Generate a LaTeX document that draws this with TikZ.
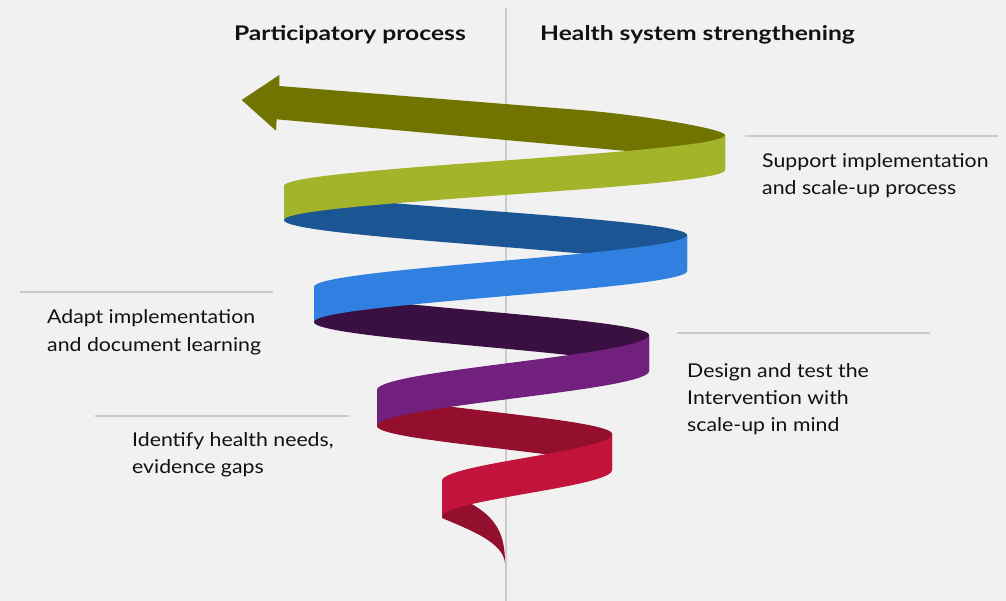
\documentclass[tikz,border=0pt]{standalone}
\usepackage{fontspec}
\setmainfont{Lato}
\newfontfamily\hdrfont[FakeStretch=1.22]{Lato}
\newfontfamily\lblfont[FakeStretch=1.12]{Lato}
\definecolor{bg}{HTML}{F1F1F1}
\definecolor{linegray}{HTML}{CBCBCB}
\definecolor{txt}{HTML}{111111}
\definecolor{crimson}{HTML}{C2133B}
\definecolor{darkred}{HTML}{930F2D}
\definecolor{purp}{HTML}{71217D}
\definecolor{darkpurp}{HTML}{3A1042}
\definecolor{brightblue}{HTML}{2F80E0}
\definecolor{darkblue}{HTML}{1C5594}
\definecolor{lime}{HTML}{A3B42A}
\definecolor{olive}{HTML}{717400}
% half-turn of the ribbon: colour, xA, topA, botA, xB, topB, botB
\newcommand{\ribbonpart}[7]{%
  \fill[#1] plot[domain=0:1,samples=90,variable=\s]
    ({(#2+#5)/2+(#2-#5)/2*cos(180*\s)},{#3+(#6-#3)*\s})
    -- plot[domain=1:0,samples=90,variable=\s]
    ({(#2+#5)/2+(#2-#5)/2*cos(180*\s)},{#4+(#7-#4)*\s}) -- cycle;}
\begin{document}
\begin{tikzpicture}[x=1pt,y=-1pt,
  hline/.style={draw=linegray,line width=1.2pt},
  lbl/.style={anchor=base west,inner sep=0pt,text=txt,font=\lblfont\fontsize{19}{23}\selectfont},
  hdr/.style={inner sep=0pt,text=txt,font=\hdrfont\fontsize{20.2}{24}\selectfont\bfseries}]
\fill[bg] (0,0) rectangle (1006,601);
\useasboundingbox (0,0) rectangle (1006,601);
% guide lines
\draw[hline] (506,8) -- (506,601);
\draw[hline] (745,136) -- (998,136);
\draw[hline] (20,292) -- (273,292);
\draw[hline] (677,333) -- (930,333);
\draw[hline] (95,416) -- (349,416);
% headers
\node[hdr,anchor=base east] (hl) at (466,41) {Participatory process};
\node[hdr,anchor=base west] (hr) at (540,41) {Health system strengthening};
% labels
\node[lbl] (s1) at (762,168) {Support implementation};
\node[lbl] (s2) at (762,195) {and scale-up process};
\node[lbl] (a1) at (47,324) {Adapt implementation};
\node[lbl] (a2) at (47,352) {and document learning};
\node[lbl] (d1) at (687,377) {Design and test the};
\node[lbl] (d2) at (687,404) {Intervention with};
\node[lbl] (d3) at (687,431) {scale-up in mind};
\node[lbl] (i1) at (132,446) {Identify health needs,};
\node[lbl] (i2) at (132,473) {evidence gaps};
% tail (back)
\fill[darkred] (505,563) .. controls (505,535) and (497,518) .. (470,503)
  .. controls (458,496) and (446,488) .. (442,481) -- (442,518)
  .. controls (470,530) and (503,542) .. (505,563) -- cycle;
% back half-turns
\ribbonpart{darkred}{612}{434}{470}{377}{390}{426}
\ribbonpart{darkpurp}{649}{335}{371}{314}{287}{322}
\ribbonpart{darkblue}{687}{235}{271}{284}{186}{220}
% top back band with arrow head
\fill[olive] (725,135) .. controls (725,129) and (640,114.7) .. (580,110)
  -- (279.3,86) -- (279.3,75) -- (241.7,100) -- (276,130.7) -- (276.7,119.3)
  -- (627,151) .. controls (690,157) and (725,165) .. (725,170) -- cycle;
% front half-turns
\ribbonpart{crimson}{442}{481}{517}{612}{434}{470}
\ribbonpart{purp}{377}{390}{426}{649}{335}{371}
\ribbonpart{brightblue}{314}{287}{322}{687}{235}{271}
\ribbonpart{lime}{284}{186}{220}{725}{135}{170}
\end{tikzpicture}
\end{document}
